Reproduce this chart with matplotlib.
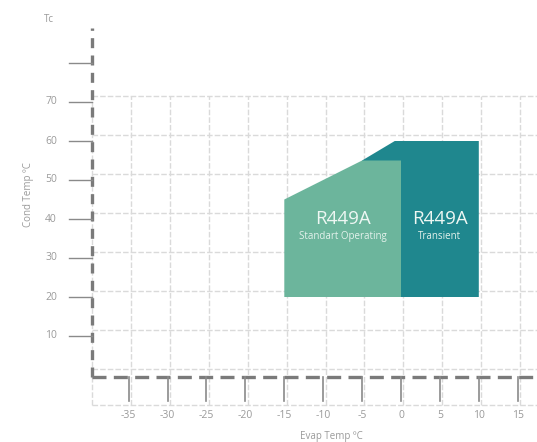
import matplotlib
matplotlib.use('Agg')
import matplotlib.pyplot as plt
from matplotlib.patches import Polygon

plt.rcParams['font.family'] = ['Open Sans', 'DejaVu Sans']

# envelope data (evap temp, cond temp)
standard_x = [-15, -15, -5, 0, 0]
standard_y = [20, 45, 55, 55, 20]
transient_x = [-5, -0.8, 10, 10, -5]
transient_y = [55, 60, 60, 20, 20]

x_ticks = [-35, -30, -25, -20, -15, -10, -5, 0, 5, 10, 15]
y_ticks = [10, 20, 30, 40, 50, 60, 70, 80]
y_labels = ['10', '20', '30', '40', '50', '60', '70', '']

light = '#6cb59c'
dark = '#1f878e'
grid_c = '#dadada'
axis_c = '#7a7a7a'
text_c = '#9a9a9a'
grid_ls = (0, (4, 1.5))

fig = plt.figure(figsize=(5.37, 4.42), dpi=100)
ax = fig.add_axes([0, 0, 1, 1])
ax.set_xlim(-401 / 7.78, (537 - 401) / 7.78)
ax.set_ylim((375 - 442) / 3.9, 375 / 3.9)
ax.axis('off')

x_left = (92 - 401) / 7.78
x_right = ax.get_xlim()[1]
y_top_grid = 71.5
y_bot_grid = -7.8

# grid
for v in x_ticks:
    ax.plot([v + 0.3, v + 0.3], [y_bot_grid, y_top_grid], color=grid_c, lw=1.0,
            ls=grid_ls, zorder=1)
ax.plot([x_left, x_left], [y_bot_grid, y_top_grid], color=grid_c, lw=1.0,
        ls=grid_ls, zorder=1)
for v in [0] + y_ticks[:-1]:
    ax.plot([x_left, x_right], [v + 1.5, v + 1.5], color=grid_c, lw=1.0,
            ls=grid_ls, zorder=1)
ax.plot([x_left, x_right], [y_bot_grid, y_bot_grid], color=grid_c, lw=1.0,
        ls=grid_ls, zorder=1)

# envelopes
ax.add_patch(Polygon(list(zip(transient_x, transient_y)), closed=True,
                     facecolor=dark, edgecolor='none', zorder=3))
ax.add_patch(Polygon(list(zip(standard_x, standard_y)), closed=True,
                     facecolor=light, edgecolor='none', zorder=4))

ax.text(-7.5, 40, 'R449A', color='#eef7f3', fontsize=13.5, ha='center', va='center', zorder=5)
ax.text(-7.5, 35.6, 'Standart Operating', color='#e4f2ec', fontsize=7, ha='center', va='center', zorder=5)
ax.text(5, 40, 'R449A', color='#eef7f3', fontsize=13.5, ha='center', va='center', zorder=5)
ax.text(5, 35.6, 'Transient', color='#e4f2ec', fontsize=7, ha='center', va='center', zorder=5)

# axes
ax.plot([x_left, x_left], [-0.5, (375 - 28) / 3.9], color=axis_c, lw=2.4,
        ls=(0, (3, 2.2)), zorder=6)
ax.plot([x_left, x_right], [-0.5, -0.5], color=axis_c, lw=2.4,
        ls=(0, (4.2, 2.2)), zorder=6)

# ticks
tick_len_x = 23 / 7.78
for v, lab in zip(y_ticks, y_labels):
    ax.plot([x_left - tick_len_x, x_left], [v, v], color='#8a8a8a', lw=1.0, zorder=6)
    if lab:
        ax.text((57 - 401) / 7.78, v, lab, color=text_c, fontsize=7.5,
                ha='right', va='center')
for v in x_ticks:
    ax.plot([v, v], [-0.5, (375 - 401) / 3.9], color='#8a8a8a', lw=1.2, zorder=6)
    ax.text(v, (375 - 416) / 3.9, str(v), color=text_c, fontsize=7.5,
            ha='center', va='center')

ax.text((49 - 401) / 7.78, (375 - 19) / 3.9, 'Tc', color=text_c, fontsize=7,
        ha='center', va='center')
ax.text((29 - 401) / 7.78, (375 - 195) / 3.9, 'Cond Temp ºC', color=text_c,
        fontsize=7, ha='center', va='center', rotation=90)
ax.text((331 - 401) / 7.78, (375 - 436) / 3.9, 'Evap Temp ºC', color=text_c,
        fontsize=7, ha='center', va='center')

fig.savefig('out.png', dpi=100)
